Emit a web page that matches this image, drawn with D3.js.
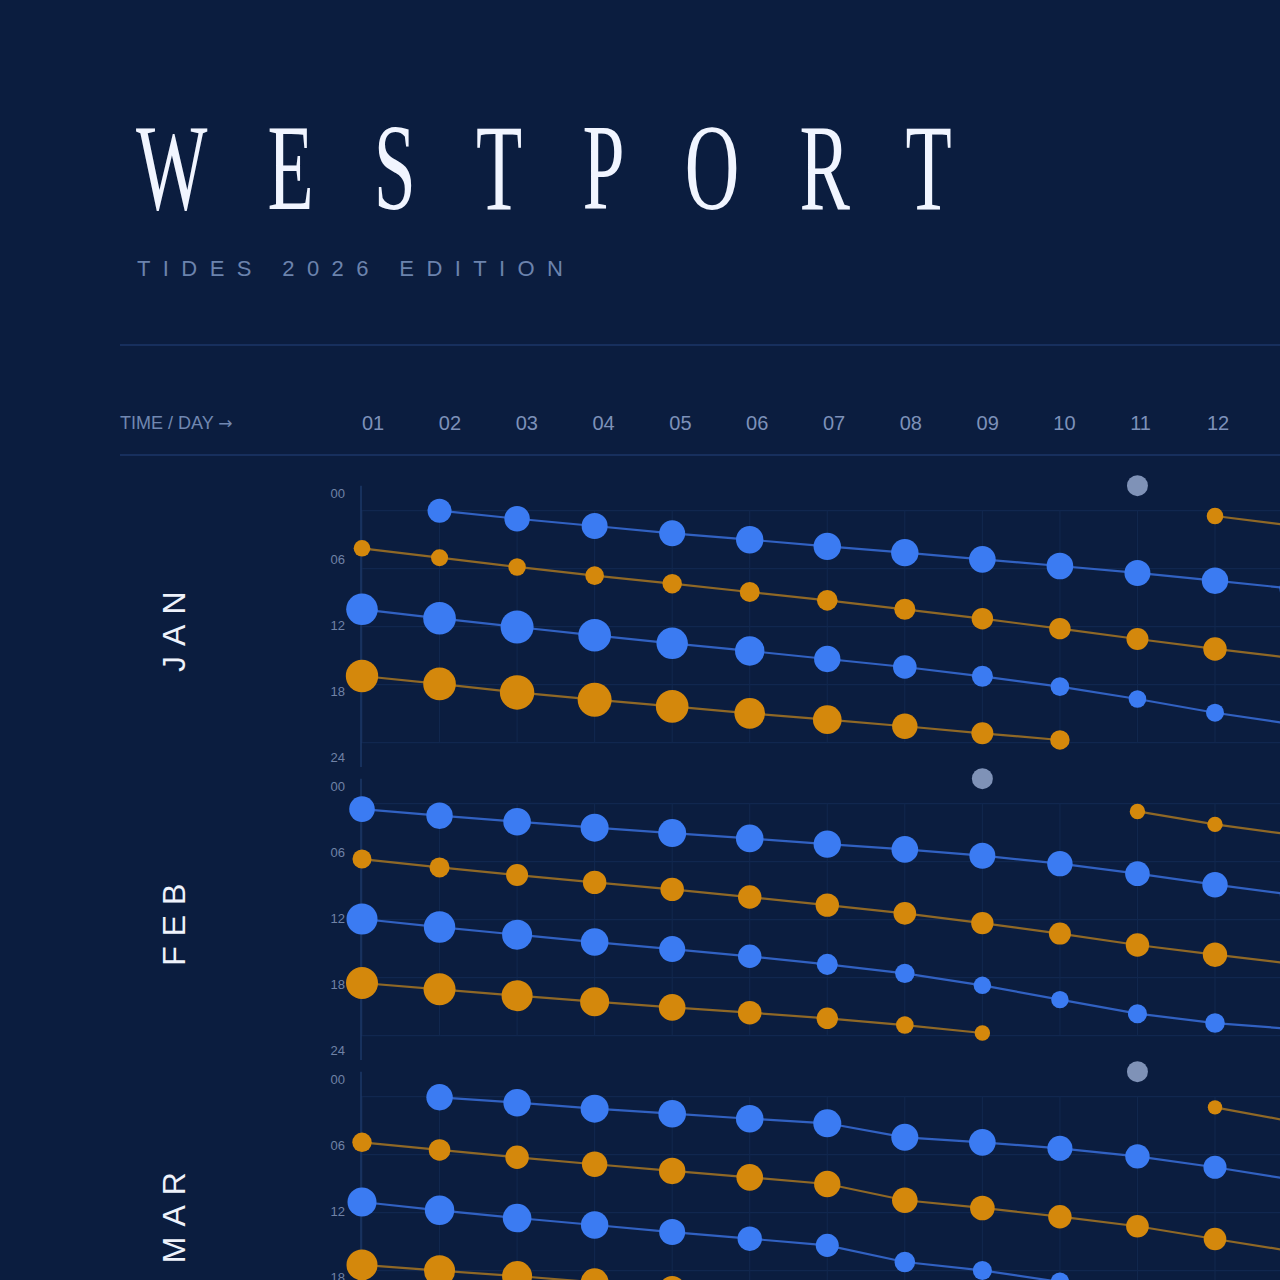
<!DOCTYPE html>
<html>
<head>
<meta charset="utf-8">
<script src="https://cdn.jsdelivr.net/npm/d3@7"></script>
<style>
  html, body { margin: 0; padding: 0; background: #0b1d3f; overflow: hidden; }
  svg { display: block; }
</style>
</head>
<body>
<script>
// ---------- DATA ----------
const TITLE = "WESTPORT";
const SUBTITLE = "TIDES 2026 EDITION";
const HEADER_LABEL = "TIME / DAY";
const HEADER_ARROW = "\u2192";
const DAYS = ["01","02","03","04","05","06","07","08","09","10","11","12"];
const MONTHS = ["JAN","FEB","MAR"];
const HOUR_TICKS = [0, 6, 12, 18, 24];
const HOUR_LABELS = ["00","06","12","18","24"];
const MOON_DAYS = [11, 9, 11];   // day of moon marker per month

// each entry: [day, time in hours, tide height in m]
const JAN_HIGH_A = [[2,0.00,2.00],[3,0.83,2.18],[4,1.58,2.25],[5,2.34,2.25],[6,3.00,2.43],[7,3.69,2.43],[8,4.34,2.43],[9,5.03,2.33],[10,5.72,2.33],[11,6.44,2.25],[12,7.24,2.30],[13,8.06,2.25]];
const JAN_LOW_A  = [[1,3.89,1.08],[2,4.86,1.13],[3,5.82,1.18],[4,6.72,1.33],[5,7.55,1.43],[6,8.41,1.50],[7,9.27,1.58],[8,10.20,1.63],[9,11.17,1.68],[10,12.20,1.68],[11,13.27,1.75],[12,14.30,1.93],[13,15.25,1.93]];
const JAN_HIGH_B = [[1,10.20,2.95],[2,11.13,3.08],[3,12.03,3.13],[4,12.89,3.08],[5,13.72,2.93],[6,14.51,2.68],[7,15.34,2.30],[8,16.17,1.95],[9,17.13,1.63],[10,18.20,1.33],[11,19.48,1.20],[12,20.90,1.25],[13,22.08,1.30]];
const JAN_LOW_B  = [[1,17.10,3.05],[2,17.92,3.08],[3,18.80,3.30],[4,19.55,3.25],[5,20.24,3.08],[6,20.96,2.83],[7,21.62,2.58],[8,22.30,2.18],[9,23.03,1.75],[10,23.72,1.43]];
const JAN_LOW_C  = [[12,0.55,1.08],[13,1.54,1.13]];

const FEB_HIGH_A = [[1,0.56,2.20],[2,1.24,2.30],[3,1.86,2.45],[4,2.48,2.50],[5,3.04,2.50],[6,3.59,2.45],[7,4.18,2.43],[8,4.73,2.33],[9,5.38,2.25],[10,6.20,2.18],[11,7.24,2.08],[12,8.38,2.18],[13,9.41,2.18]];
const FEB_LOW_A  = [[1,5.73,1.38],[2,6.59,1.50],[3,7.38,1.75],[4,8.14,1.93],[5,8.86,1.93],[6,9.66,1.93],[7,10.49,1.93],[8,11.34,1.83],[9,12.35,1.80],[10,13.44,1.75],[11,14.62,1.93],[12,15.62,2.05],[13,16.57,2.08]];
const FEB_HIGH_B = [[1,11.93,2.88],[2,12.76,2.93],[3,13.55,2.75],[4,14.31,2.45],[5,15.04,2.25],[6,15.79,1.93],[7,16.62,1.63],[8,17.55,1.43],[9,18.79,1.18],[10,20.27,1.18],[11,21.72,1.38],[12,22.69,1.45],[13,23.31,1.50]];
const FEB_LOW_B  = [[1,18.55,3.00],[2,19.20,3.00],[3,19.86,2.88],[4,20.48,2.63],[5,21.07,2.33],[6,21.62,1.95],[7,22.20,1.68],[8,22.90,1.20],[9,23.72,0.93]];
const FEB_LOW_C  = [[11,0.80,0.93],[12,2.14,0.93],[13,3.22,0.95]];

const MAR_HIGH_A = [[2,0.06,2.30],[3,0.62,2.43],[4,1.24,2.50],[5,1.76,2.45],[6,2.28,2.45],[7,2.75,2.50],[8,4.20,2.38],[9,4.72,2.33],[10,5.34,2.13],[11,6.17,2.05],[12,7.30,1.88],[13,8.58,1.83]];
const MAR_LOW_A  = [[1,4.72,1.43],[2,5.51,1.70],[3,6.27,1.93],[4,6.99,2.18],[5,7.68,2.30],[6,8.34,2.33],[7,9.03,2.30],[8,10.71,2.20],[9,11.51,2.08],[10,12.41,1.93],[11,13.40,1.83],[12,14.72,1.83],[13,15.99,1.83]];
const MAR_HIGH_B = [[1,10.89,2.63],[2,11.75,2.68],[3,12.55,2.58],[4,13.27,2.43],[5,14.00,2.25],[6,14.69,2.05],[7,15.38,1.88],[8,17.10,1.58],[9,17.97,1.38],[10,19.16,1.33]];
const MAR_LOW_B  = [[1,17.40,2.88],[2,18.00,2.88],[3,18.55,2.75],[4,19.20,2.50],[5,19.90,2.25]];
const MAR_LOW_C  = [[12,1.10,0.80],[13,2.58,0.83]];

const SERIES = [
  [ {kind:"high", pts:JAN_HIGH_A}, {kind:"low", pts:JAN_LOW_A}, {kind:"high", pts:JAN_HIGH_B}, {kind:"low", pts:JAN_LOW_B}, {kind:"low", pts:JAN_LOW_C} ],
  [ {kind:"high", pts:FEB_HIGH_A}, {kind:"low", pts:FEB_LOW_A}, {kind:"high", pts:FEB_HIGH_B}, {kind:"low", pts:FEB_LOW_B}, {kind:"low", pts:FEB_LOW_C} ],
  [ {kind:"high", pts:MAR_HIGH_A}, {kind:"low", pts:MAR_LOW_A}, {kind:"high", pts:MAR_HIGH_B}, {kind:"low", pts:MAR_LOW_B}, {kind:"low", pts:MAR_LOW_C} ]
];

// ---------- STYLE / LAYOUT ----------
const W = 2400, H = 1280;
const BG = "#0b1d3f";
const COLORS = { high: "#3b7bf2", low: "#d4880c" };
const LINE_COLORS = { high: "#3161c2", low: "#8f6826" };
const MOON_COLOR = "#7f92b7";
const sans = "'Liberation Sans', Arial, Helvetica, sans-serif";

const svg = d3.select("body").append("svg").attr("width", W).attr("height", H)
  .style("background", BG);

svg.append("rect").attr("width", W).attr("height", H).attr("fill", BG);

// Title
svg.append("text")
  .attr("transform", "translate(136,209) scale(0.62,1)")
  .attr("font-family", "'Liberation Serif', 'Times New Roman', serif")
  .attr("font-size", 122)
  .attr("letter-spacing", 97)
  .attr("fill", "#f1f5ff")
  .text(TITLE);

svg.append("text")
  .attr("x", 137).attr("y", 276)
  .attr("font-family", sans).attr("font-size", 22)
  .attr("letter-spacing", 12.4)
  .attr("fill", "#6c83ad")
  .text(SUBTITLE);

// Rules
[345, 455].forEach(y => {
  svg.append("line").attr("x1", 120).attr("x2", W).attr("y1", y).attr("y2", y)
    .attr("stroke", "#1c3668").attr("stroke-width", 1.5);
});

// x scales
const x = d3.scaleLinear().domain([1, 12]).range([362, 1215]);
const xHead = d3.scaleLinear().domain([1, 12]).range([362, 1207]);

const head = svg.append("text")
  .attr("x", 120).attr("y", 429)
  .attr("font-family", sans).attr("font-size", 18)
  .attr("fill", "#7188b1");
head.append("tspan").text(HEADER_LABEL + " ");
head.append("tspan").attr("font-family", "'DejaVu Sans', sans-serif").attr("font-size", 17).text(HEADER_ARROW);

svg.append("g").selectAll("text").data(DAYS).join("text")
  .attr("x", (d, i) => xHead(i + 1))
  .attr("y", 430)
  .attr("font-family", sans).attr("font-size", 20)
  .attr("fill", "#7d91b9")
  .text(d => d);

// Panels
const PANEL_STEP = 293;
const GRID_TOP0 = 510.7;
const GRID_H = 232;

const line = d3.line().x(d => d.x).y(d => d.y);
const r = d3.scaleLinear().domain([0, 3]).range([4, 16]);

MONTHS.forEach((m, i) => {
  const top = GRID_TOP0 + i * PANEL_STEP;
  const y = d3.scaleLinear().domain([0, 24]).range([top, top + GRID_H]);
  const yLab = d3.scaleLinear().domain([0, 24]).range([top - 17, top + GRID_H + 14.3]);
  const g = svg.append("g");

  // month label
  g.append("text")
    .attr("transform", `translate(185,${top + GRID_H / 2}) rotate(-90)`)
    .attr("text-anchor", "middle")
    .attr("font-family", sans).attr("font-size", 32)
    .attr("letter-spacing", 10)
    .attr("fill", "#eef2fb")
    .text(m);

  // horizontal grid
  g.append("g").selectAll("line").data(HOUR_TICKS).join("line")
    .attr("x1", 361).attr("x2", W)
    .attr("y1", d => y(d)).attr("y2", d => y(d))
    .attr("stroke", "#132a53").attr("stroke-width", 1);

  // vertical grid
  g.append("g").selectAll("line").data(d3.range(1, 20)).join("line")
    .attr("x1", d => x(d)).attr("x2", d => x(d))
    .attr("y1", y(0)).attr("y2", y(24))
    .attr("stroke", "#12284f").attr("stroke-width", 1);

  // axis line
  g.append("line").attr("x1", 361).attr("x2", 361)
    .attr("y1", yLab(0) - 8).attr("y2", yLab(24) + 10)
    .attr("stroke", "#1d3868").attr("stroke-width", 1.5);

  // hour labels (only those inside the picture)
  g.append("g").selectAll("text").data(HOUR_TICKS.filter(t => yLab(t) < H)).join("text")
    .attr("x", 345).attr("y", d => yLab(d))
    .attr("dy", "0.36em")
    .attr("text-anchor", "end")
    .attr("font-family", sans).attr("font-size", 13)
    .attr("fill", "#7082a6")
    .text(d => HOUR_LABELS[HOUR_TICKS.indexOf(d)]);

  const series = SERIES[i].map(s => ({
    kind: s.kind,
    pts: s.pts.map(([day, hr, ht]) => ({ x: x(day), y: y(hr), r: r(ht) }))
  }));

  // lines
  g.append("g").selectAll("path").data(series).join("path")
    .attr("d", s => line(s.pts))
    .attr("fill", "none")
    .attr("stroke", s => LINE_COLORS[s.kind])
    .attr("stroke-width", 2.2);

  // dots
  series.forEach(s => {
    g.append("g").selectAll("circle").data(s.pts).join("circle")
      .attr("cx", d => d.x).attr("cy", d => d.y).attr("r", d => d.r)
      .attr("fill", COLORS[s.kind]);
  });

  // moon marker
  g.append("circle")
    .attr("cx", x(MOON_DAYS[i])).attr("cy", top - 25).attr("r", 10.5)
    .attr("fill", MOON_COLOR);
});
</script>
</body>
</html>
